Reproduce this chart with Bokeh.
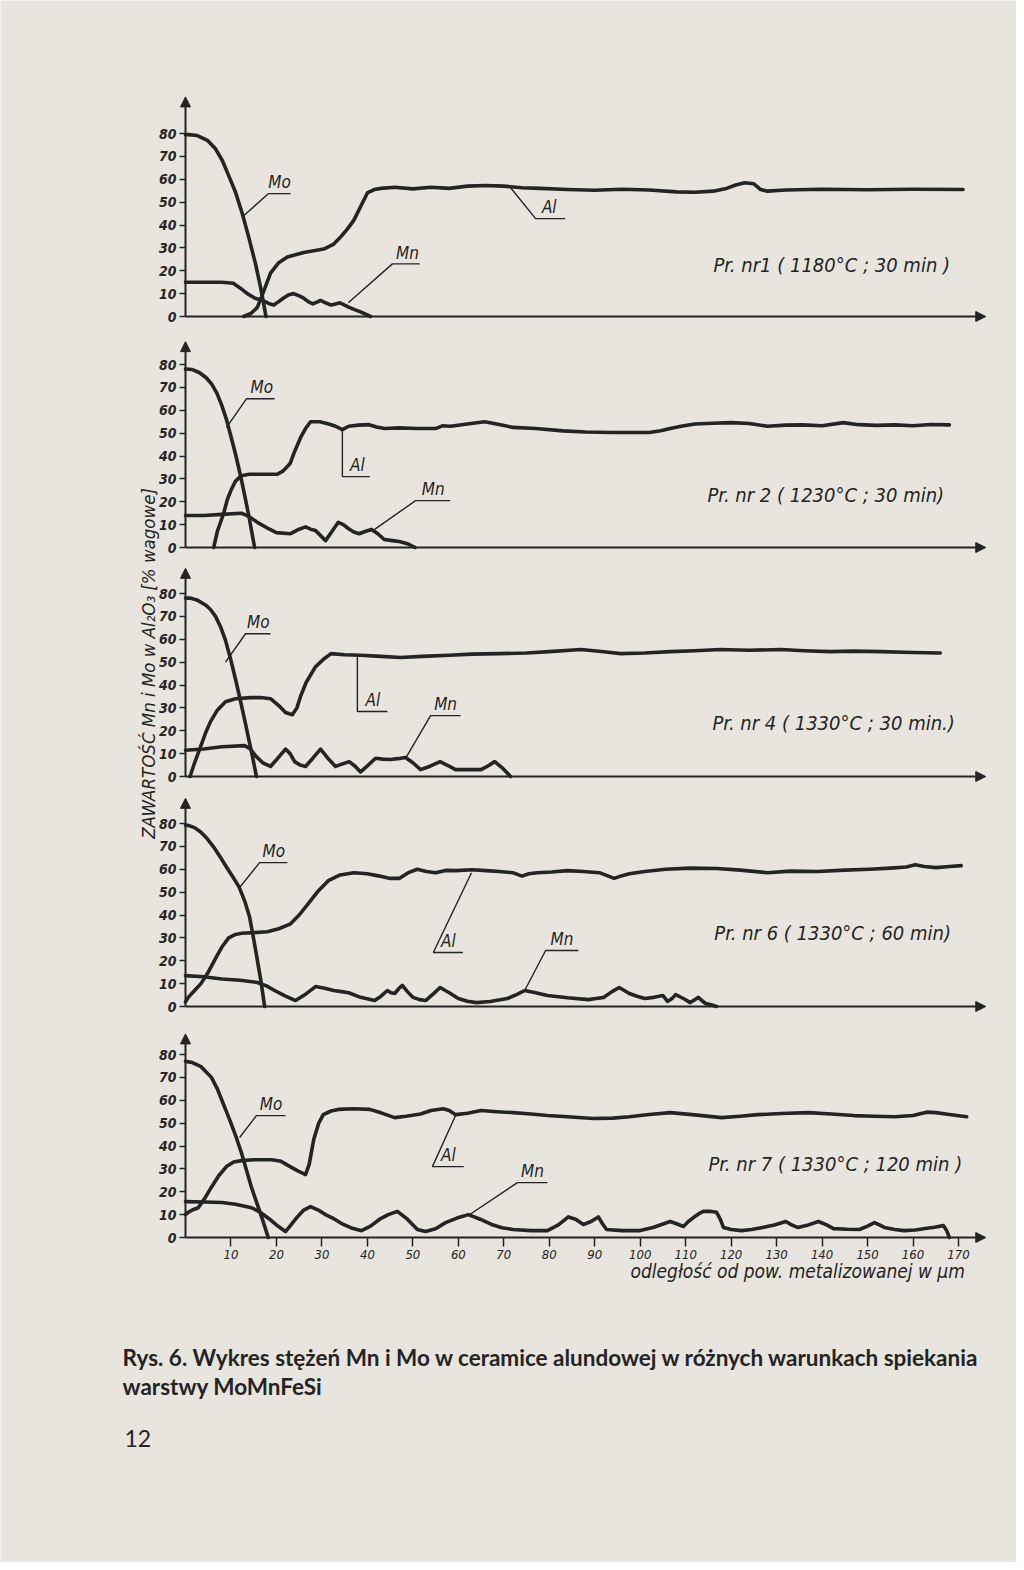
import numpy as np
from bokeh.plotting import figure
from bokeh.models import Range1d, LinearAxis, FixedTicker, Arrow, NormalHead
from bokeh.core.properties import value
from bokeh.embed import file_html
from bokeh.resources import INLINE

# ---------------- data ----------------
Y_TICKS = [0, 10, 20, 30, 40, 50, 60, 70, 80]
X_TICKS = [10, 20, 30, 40, 50, 60, 70, 80, 90, 100, 110, 120, 130, 140, 150, 160, 170]

# Panel 1: Pr. nr 1 (1180°C ; 30 min)
p1_mo_x = [0, 0.7, 2.6, 4.8, 6.6, 8.1, 9.5, 11, 12.5, 13.9, 15.4, 16.5, 17.2, 17.7]
p1_mo_y = [79.5, 79.5, 79.1, 77, 73.3, 68.2, 61.6, 54.3, 44.9, 34.7, 23, 12.8, 5.5, 0]
p1_mn_x = [0, 4, 8, 10.5, 12, 13.6, 15.3, 17, 18.3, 19.4, 20.5, 21.5, 22.7, 23.8, 25, 26, 27, 28,
           28.9, 29.7, 30.8, 32, 33, 34, 35, 36, 37.2, 38.5, 39.6, 40.7]
p1_mn_y = [15, 15, 15, 14.5, 12.5, 10, 8, 7, 5.7, 5, 6.5, 8, 9.5, 10, 9, 8, 6.5, 5.5,
           6.3, 7, 6, 5, 5.5, 6, 5, 4, 3, 2, 1, 0]
p1_al_x = [12.8, 14.5, 15.8, 17, 18.7, 20.5, 22.4, 26, 30.4, 32.5, 34, 35.5, 37, 38.5, 40, 41.5, 43, 46,
           50, 54, 58, 62, 66, 70, 74, 78, 84, 90, 96, 102, 108, 112, 116, 119, 121, 123, 125, 126.5,
           128, 132, 140, 150, 160, 171]
p1_al_y = [0, 1.5, 4, 10, 19, 23.5, 26, 28, 29.5, 31.5, 34.5, 38, 42, 48, 54, 55.5, 56, 56.5,
           55.8, 56.5, 56, 57, 57.3, 57, 56.3, 56, 55.5, 55.2, 55.6, 55.3, 54.5, 54.3, 54.8, 56, 57.5, 58.5, 58, 55.5,
           54.8, 55.3, 55.6, 55.4, 55.6, 55.5]

# Panel 2: Pr. nr 2 (1230°C ; 30 min)
p2_mo_x = [0, 1.5, 3, 4.5, 5.7, 6.9, 8, 9, 10, 11.1, 12.2, 13.2, 14, 14.6, 15.2]
p2_mo_y = [78, 77.8, 76.5, 74.3, 71.6, 67.5, 62, 56, 48.5, 40, 30.5, 21, 13, 6.5, 0]
p2_mn_x = [0, 4, 8, 12.3, 14, 15.8, 18, 20, 23, 25, 26.4, 27.5, 28.6, 30.8, 32.2, 33.6, 34.7, 35.8,
           37, 38.2, 39.5, 40.9, 42.3, 43.7, 45.5, 47, 49, 50.5]
p2_mn_y = [14, 14, 14.5, 15, 13.5, 11, 8.5, 6.5, 6, 8, 9, 8, 7.4, 3, 7, 11, 10, 8.3,
           6.8, 6, 7, 7.9, 6, 3.5, 3, 2.6, 1.5, 0]
p2_al_x = [6.2, 7, 8.4, 9.2, 10, 11, 12.3, 14, 17, 20.2, 21.5, 23, 24, 25.3, 26.4, 27.5, 29.5, 31.5,
           33, 34.5, 35.9, 38, 40.4, 42, 43.8, 47, 51, 55, 56.5, 58.3, 62, 65.8, 69, 72, 77, 83, 88,
           94, 98, 102, 104.5, 106.6, 109, 112, 116, 120, 124, 128, 132, 135.7, 140, 144.7, 148, 152,
           156, 160, 164, 168]
p2_al_y = [0, 7, 15, 21, 25, 29, 31.4, 32, 32, 32, 33.5, 36.7, 42, 48, 52, 55, 55, 54,
           53, 51.5, 53, 53.5, 53.7, 52.7, 52, 52.3, 52, 52, 53.2, 53, 54, 55, 53.8, 52.5, 52, 51, 50.5,
           50.3, 50.3, 50.3, 51, 52, 53, 54, 54.3, 54.6, 54.2, 53, 53.5, 53.6, 53.2, 54.6, 53.7, 53.4,
           53.6, 53.2, 53.8, 53.6]

# Panel 3: Pr. nr 4 (1330°C ; 30 min.)
p3_mo_x = [0, 1, 2.5, 4.4, 5.5, 6.6, 7.7, 8.8, 9.9, 11, 12.1, 13.2, 14, 14.8, 15.6]
p3_mo_y = [78, 78, 77.2, 75, 73, 70, 65.5, 59.5, 51.5, 42.5, 33, 23, 15.5, 8, 0]
p3_mn_x = [0, 4, 8, 13, 14.3, 15.4, 17, 18.7, 20.3, 22, 23, 24, 25.2, 26.4, 28, 29.7, 31.3, 33,
           34.5, 36, 37.3, 38.5, 40.2, 41.8, 43.4, 45, 46.7, 48.4, 50, 51.7, 53.8, 56, 57.7, 59.4,
           62, 65, 66.5, 68, 69.8, 71.5]
p3_mn_y = [11.5, 12, 13, 13.5, 12, 9, 6, 4.4, 8, 12, 10, 6.5, 5, 4.4, 8, 12, 8, 4.4,
           5.5, 6.5, 4.5, 2, 5, 8, 7.6, 7.4, 7.8, 8.3, 6, 3, 4.5, 6.5, 4.8, 3,
           3, 3, 4.6, 6.5, 3.5, 0]
p3_al_x = [1, 2, 3.3, 4.4, 5.5, 7, 8.8, 11, 14.3, 16.5, 18.7, 20.5, 22, 23.5, 24.5, 25.3, 26.5, 28.6,
           30.5, 32, 35, 38.5, 43, 47.3, 52, 58, 63, 69, 75, 80, 87, 92, 95.7, 101, 106.6, 112,
           117.6, 124, 131, 136, 141.8, 147, 152.8, 160, 166]
p3_al_y = [0, 6, 13, 19, 24, 29, 32.7, 34, 34.5, 34.5, 34, 31, 28, 27, 30, 35, 41, 48,
           51.5, 53.7, 53.2, 53, 52.5, 52, 52.5, 53, 53.5, 53.7, 54, 54.6, 55.5, 54.5, 53.7, 54, 54.6, 55,
           55.5, 55.2, 55.5, 55, 54.6, 54.8, 54.6, 54.2, 54]

# Panel 4: Pr. nr 6 (1330°C ; 60 min)
p4_mo_x = [0, 0.6, 2, 3.4, 4.8, 6.2, 7.6, 9, 10.4, 11.8, 13, 14.1, 14.9, 15.7, 16.6, 17.4]
p4_mo_y = [79.2, 79.2, 78.2, 76.2, 73.3, 69.7, 65.5, 61, 56.7, 52.2, 46.2, 39.1, 30.5, 21.5, 11, 0]
p4_mn_x = [0, 4, 8, 12, 15.8, 17.8, 19.6, 22, 24.2, 26.5, 28.6, 30.6, 32.6, 34.3, 35.9, 38.5, 41.6,
           43, 44.4, 45.2, 46, 47, 47.7, 48.8, 50, 51.5, 52.8, 54.5, 56, 58, 60, 62, 64, 67, 70.8,
           72.8, 74.6, 77, 79.6, 84, 88.6, 90.3, 92, 93.8, 95.4, 96.5, 97.6, 99.3, 101, 103, 105,
           106, 107, 107.8, 109.5, 111, 112, 112.8, 113.6, 114.4, 115.6, 116.8]
p4_mn_y = [13.5, 13, 12, 11.5, 10.5, 9, 7, 4.5, 2.6, 5.5, 8.7, 8, 7, 6.5, 6, 4, 2.6,
           4.5, 7, 6, 5.7, 8, 9.2, 6.5, 4, 3, 2.6, 5.5, 8.3, 6, 3.5, 2.3, 1.7, 2.2, 3.5,
           5.2, 7, 6, 4.8, 3.8, 3, 3.5, 4, 6.5, 8.3, 7, 5.7, 4.5, 3.5, 4, 4.8,
           2.2, 3.5, 5.2, 3.5, 1.7, 3, 4, 2.5, 1.3, 0.8, 0]
p4_al_x = [0, 0.6, 2, 3.4, 5, 6.7, 8, 9.5, 11, 12.3, 15, 18, 20.5, 23, 25, 27, 29.2, 31.4, 34, 37,
           40, 42.7, 45, 47, 49, 51, 53, 55, 57.2, 59.4, 63, 66.2, 69, 72, 74, 75.5, 77.4, 80.5, 84,
           87.5, 91, 94.3, 96, 97.6, 101, 105.6, 111, 116.8, 122, 128, 133, 139, 145, 150.4, 155,
           158.5, 160.5, 162.5, 165, 168, 170.6]
p4_al_y = [2, 4, 7, 10, 15, 21.4, 26, 30, 31.5, 32, 32.3, 32.7, 34, 36, 40, 45, 50.5, 55, 57.5, 58.5,
           58, 57, 56, 56, 58.5, 60, 59, 58.5, 59.5, 59.4, 59.8, 59.4, 59, 58.5, 57, 58, 58.5, 58.8, 59.4,
           59, 58.5, 56, 57.2, 58, 59, 60, 60.5, 60.3, 59.6, 58.5, 59.2, 59, 59.6, 60, 60.5,
           61, 62, 61.2, 60.7, 61.2, 61.6]

# Panel 5: Pr. nr 7 (1330°C ; 120 min)
p5_mo_x = [0, 1.5, 3.4, 4.5, 5.7, 7, 8, 9, 10, 11.2, 12.3, 13.4, 14.5, 15.7, 16.9, 18.2]
p5_mo_y = [77, 76.5, 74.7, 72.5, 70, 65, 60, 55, 50, 43.5, 37, 29.5, 22, 15, 8, 0]
p5_mn_x = [0, 4, 8, 11, 14.5, 16.5, 18.5, 20.3, 22, 23.2, 24.6, 26, 27.5, 29.2, 30.8, 32.8, 34.7,
           36.7, 38.7, 40.7, 42.7, 44.6, 46.6, 48.8, 51, 52.8, 55, 57.2, 59.7, 62.2, 64.8, 67.3,
           69.6, 72, 76, 79.6, 82, 84.2, 85.8, 87.5, 89.2, 90.8, 91.7, 92.6, 96, 99.8, 103, 106.6,
           108, 109.5, 110.6, 111.7, 113, 113.9, 115.3, 116.8, 117.6, 118.3, 120, 122.3, 124.5,
           126.9, 129.5, 132, 133.3, 134.6, 137, 139.2, 141, 142.5, 145.5, 148.2, 150, 151.5,
           152.6, 153.7, 156, 158, 160.5, 162.7, 164.7, 166.7, 167.4, 168]
p5_mn_y = [15.7, 15.5, 15.3, 14.5, 13, 11, 8, 5, 2.6, 5.5, 9, 12, 13.5, 12, 10, 8, 5.7,
           4, 3, 5, 8, 10, 11.4, 8, 3.5, 2.6, 3.8, 6.5, 8.5, 10, 8, 5.7,
           4.3, 3.5, 3, 3, 5.5, 9, 8, 5.7, 7, 9, 6, 3.5, 3, 3, 4.5, 7,
           6, 4.8, 7, 8.7, 10.5, 11.4, 11.5, 11, 8, 4.4, 3.5, 3, 3.5,
           4.4, 5.5, 7, 5.5, 4.4, 5.5, 7, 5.5, 3.9, 3.6, 3.5, 5, 6.5,
           5.5, 4.4, 3.5, 3, 3.3, 3.9, 4.5, 5.2, 3, 0]
p5_al_x = [0, 0.6, 1.5, 2.8, 4.2, 5.7, 7.3, 9, 10.6, 12.3, 15, 17, 19, 21, 23, 24.8, 26.4, 27.2, 28.2,
           29.3, 30.3, 32, 33.6, 37, 40.5, 43, 46, 48.5, 51.7, 54, 56.7, 58, 59.4, 62, 65, 68.5, 72,
           76, 79.6, 84, 89.7, 94, 97.6, 102, 106.6, 112, 117.9, 122, 125.8, 131, 137, 142, 147,
           151.5, 156, 160, 163, 165, 168, 171.8]
p5_al_y = [10, 11, 12, 13, 17, 22, 27, 31, 33, 33.6, 34, 34, 34, 33.3, 31, 29, 27.5, 32, 42.8,
           50, 53.7, 55.3, 56, 56.3, 56, 54.5, 52.4, 53, 54, 55.5, 56.3, 55.5, 53.7, 54.3, 55.5, 55, 54.6,
           54, 53.3, 52.8, 52, 52.2, 52.8, 53.8, 54.6, 53.6, 52.4, 53, 53.7, 54.2, 54.6, 54, 53.3,
           53, 52.8, 53.3, 54.8, 54.6, 53.8, 52.8]

PANEL_TITLES = ["Pr. nr1 ( 1180°C ; 30 min )",
                "Pr. nr 2 ( 1230°C ; 30 min)",
                "Pr. nr 4 ( 1330°C ; 30 min.)",
                "Pr. nr 6 ( 1330°C ; 60 min)",
                "Pr. nr 7 ( 1330°C ; 120 min )"]
SERIES = [
    [(p1_mo_x, p1_mo_y), (p1_mn_x, p1_mn_y), (p1_al_x, p1_al_y)],
    [(p2_mo_x, p2_mo_y), (p2_mn_x, p2_mn_y), (p2_al_x, p2_al_y)],
    [(p3_mo_x, p3_mo_y), (p3_mn_x, p3_mn_y), (p3_al_x, p3_al_y)],
    [(p4_mo_x, p4_mo_y), (p4_mn_x, p4_mn_y), (p4_al_x, p4_al_y)],
    [(p5_mo_x, p5_mo_y), (p5_mn_x, p5_mn_y), (p5_al_x, p5_al_y)],
]
Y_LABEL = "ZAWARTOŚĆ Mn i Mo w Al₂O₃ [% wagowe]"
X_LABEL = "odległość od pow. metalizowanej w µm"
CAPTION_1 = "Rys. 6. Wykres stężeń Mn i Mo w ceramice alundowej w różnych warunkach spiekania"
CAPTION_2 = "warstwy MoMnFeSi"
PAGE_NO = "12"

# ---------------- layout / style ----------------
PAPER = "#e7e5dd"
INK = "#242424"
HAND = "'Liberation Sans Narrow', 'DejaVu Sans Condensed', 'DejaVu Sans', sans-serif"
PRINT = "Lato, 'Open Sans', sans-serif"

W, H = 1016, 1562
X0 = 185.0            # figure px of x = 0
SX = 4.547            # px per µm
SY = 2.2875           # px per %
BASE = [316, 547, 776, 1006, 1237]  # figure px of y = 0 for each panel
Y_TOP = [96, 90, 91, 91, 89]        # arrow tip of the y axes
X_TIP = 176

# label annotations: (text, tx, ty, leader xs, leader ys) in panel data units
ANNOT = [
    [("Mo", 20.7, 54.3, [12.8, 18.2, 23.1], [44, 53.7, 53.7]),
     ("Mn", 48.8, 23.6, [35.8, 45.5, 51.5], [6, 23, 23]),
     ("Al", 80.0, 43.4, [71.5, 77, 83.5], [56.3, 42.8, 42.8])],
    [("Mo", 16.8, 65.6, [9, 13.4, 19.6], [52.4, 65, 65]),
     ("Al", 37.8, 31.6, [34.5, 34.5, 40.5], [51.5, 31, 31]),
     ("Mn", 54.5, 21.1, [41.6, 50.6, 58.2], [7.9, 20.5, 20.5])],
    [("Mo", 16.0, 63.0, [8.8, 13.2, 18.7], [50, 62.4, 62.4]),
     ("Al", 41.2, 29.0, [37.8, 37.8, 44.4], [53, 28.4, 28.4]),
     ("Mn", 57.2, 27.2, [48.4, 53.9, 60.5], [7.9, 26.6, 26.6])],
    [("Mo", 19.4, 63.5, [11.9, 16.3, 22.4], [52, 62.9, 62.9]),
     ("Al", 57.8, 24.2, [62.9, 54.5, 61], [58.5, 23.6, 23.6]),
     ("Mn", 82.8, 25.1, [74.6, 79.2, 86.4], [7, 24.5, 24.5])],
    [("Mo", 18.8, 53.9, [11.9, 15.6, 22], [43.7, 53.3, 53.3]),
     ("Al", 57.8, 31.6, [59.4, 54.3, 61.2], [53.3, 31, 31]),
     ("Mn", 76.3, 24.6, [62.2, 73, 79.6], [9.6, 24, 24])],
]
TITLE_POS = [(116.1, 22.3), (114.8, 23.1), (115.9, 23.6), (116.3, 32.3), (115.0, 32.3)]


def px_x(px):   # page px -> x data
    return (px - X0) / SX


def px_y(py):   # page px -> default-range y data (panel 5)
    return (BASE[4] - py) / SY


p = figure(width=W, height=H, output_backend="svg", toolbar_location=None,
           x_axis_location=None, y_axis_location=None, min_border=0,
           x_range=Range1d(-X0 / SX, (W - X0) / SX),
           y_range=Range1d(-(H - BASE[4]) / SY, BASE[4] / SY))
p.outline_line_color = None
p.grid.visible = False
p.background_fill_color = PAPER
p.border_fill_color = PAPER
p.extra_y_ranges = {f"p{i}": Range1d(-(H - b) / SY, b / SY) for i, b in enumerate(BASE)}

for i in range(5):
    rn = f"p{i}"
    ax = LinearAxis(y_range_name=rn, fixed_location=0, ticker=FixedTicker(ticks=Y_TICKS),
                    axis_line_color=None, major_tick_out=6, major_tick_in=0,
                    minor_tick_line_color=None, major_tick_line_color=INK,
                    major_tick_line_width=1.5, major_label_standoff=3,
                    major_label_text_font=HAND, major_label_text_font_style="bold italic",
                    major_label_text_font_size="14px", major_label_text_color=INK)
    p.add_layout(ax, "left")

    # axes lines with arrow heads
    p.add_layout(Arrow(end=NormalHead(size=10, fill_color=INK, line_color=INK, line_width=1),
                       x_start=0, y_start=0, x_end=X_TIP, y_end=0, line_width=2,
                       line_color=INK, y_range_name=rn))
    p.add_layout(Arrow(end=NormalHead(size=10, fill_color=INK, line_color=INK, line_width=1),
                       x_start=0, y_start=0, x_end=0, y_end=Y_TOP[i], line_width=2,
                       line_color=INK, y_range_name=rn))

    for xs, ys in SERIES[i]:
        p.line(xs, ys, y_range_name=rn, line_width=3.6, line_color=INK,
               line_join="round", line_cap="round")

    an = ANNOT[i]
    p.multi_line([a[3] for a in an], [a[4] for a in an], y_range_name=rn,
                 line_width=1.4, line_color=INK)
    p.text([a[1] for a in an], [a[2] for a in an], text=[a[0] for a in an],
           y_range_name=rn, text_font=value(HAND), text_font_style="italic",
           text_font_size="17px", text_align="center", text_baseline="bottom",
           text_color=INK)
    p.text([TITLE_POS[i][0]], [TITLE_POS[i][1]], text=[PANEL_TITLES[i]], y_range_name=rn,
           text_font=value(HAND), text_font_style="italic", text_font_size="20px",
           text_align="left", text_baseline="middle", text_color=INK)

xa = LinearAxis(y_range_name="p4", fixed_location=0, ticker=FixedTicker(ticks=X_TICKS),
                axis_line_color=None, major_tick_out=9, major_tick_in=0,
                minor_tick_line_color=None, major_tick_line_color=INK,
                major_tick_line_width=1.5, major_label_standoff=3,
                major_label_text_font=HAND, major_label_text_font_style="italic",
                major_label_text_font_size="13px", major_label_text_color=INK)
p.add_layout(xa, "below")

p.text([px_x(630)], [px_y(1270)], text=[X_LABEL], text_font=value(HAND),
       text_font_style="italic", text_font_size="19px", text_align="left",
       text_baseline="middle", text_color=INK)
p.text([px_x(148)], [px_y(663)], text=[Y_LABEL], angle=np.pi / 2, text_font=value(HAND),
       text_font_style="italic", text_font_size="18.5px", text_align="center",
       text_baseline="middle", text_color=INK)

p.text([px_x(122), px_x(122)], [px_y(1357), px_y(1386)], text=[CAPTION_1, CAPTION_2],
       text_font=value(PRINT), text_font_style="bold", text_font_size="22.5px",
       text_align="left", text_baseline="middle", text_color=INK)
p.text([px_x(124)], [px_y(1438)], text=[PAGE_NO], text_font=value(PRINT),
       text_font_size="23px", text_align="left", text_baseline="middle", text_color=INK)

open("out.html", "w").write(file_html(p, INLINE))
